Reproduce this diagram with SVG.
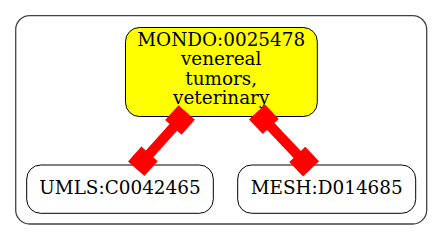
<svg xmlns="http://www.w3.org/2000/svg" width="443" height="240" viewBox="0 0 443 240">
  <style>
    .cluster { fill: #ffffff; stroke: #444444; stroke-width: 1.3; }
    .node { stroke: #000000; stroke-width: 1; }
    .label { font-family: "DejaVu Serif", "Liberation Serif", serif; font-size: 18.4px; fill: #000000; text-anchor: middle; }
    .edge { fill: #ff0000; stroke: none; }
  </style>
  <rect x="0" y="0" width="443" height="240" fill="#ffffff"/>
  <!-- cluster frame -->
  <rect class="cluster" x="15.7" y="15.7" width="411" height="208.3" rx="14" ry="14"/>

  <g id="nodes">
    <g id="MONDO_0025478">
      <rect class="node" x="125.5" y="27.5" width="191.8" height="89" rx="14" ry="14" fill="#ffff00"/>
      <text class="label" x="221.2" y="45.5">MONDO:0025478</text>
      <text class="label" x="221.2" y="65.2">venereal</text>
      <text class="label" x="221.2" y="84.7">tumors,</text>
      <text class="label" x="221.2" y="104.2">veterinary</text>
    </g>
    <g id="UMLS_C0042465">
      <rect class="node" x="26.7" y="165" width="186.6" height="48.3" rx="14" ry="14" fill="#ffffff"/>
      <text class="label" x="120" y="194.2">UMLS:C0042465</text>
    </g>
    <g id="MESH_D014685">
      <rect class="node" x="237.7" y="165" width="178" height="48.3" rx="14" ry="14" fill="#ffffff"/>
      <text class="label" x="326.7" y="194.2">MESH:D014685</text>
    </g>
  </g>

  <!-- connectors: thick shaft with a box end on each side -->
  <g id="edges">
    <g transform="translate(186.7,112.5) rotate(131.9)">
      <path class="edge" d="M0,-11 H20 V-5 H55.6 V-11 H75.6 V11 H55.6 V5 H20 V11 H0 Z"/>
    </g>
    <g transform="translate(257,112) rotate(46.5)">
      <path class="edge" d="M0,-11 H20 V-5 H58.5 V-11 H78.5 V11 H58.5 V5 H20 V11 H0 Z"/>
    </g>
  </g>
</svg>
